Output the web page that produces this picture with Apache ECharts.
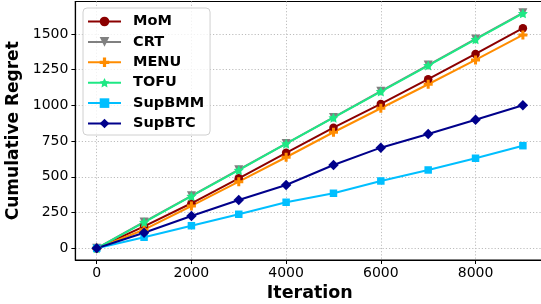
<!DOCTYPE html>
<html>
<head>
<meta charset="utf-8">
<script src="https://cdn.jsdelivr.net/npm/echarts@6/dist/echarts.min.js"></script>
<style>
html,body{margin:0;padding:0;background:#fff;}
#c{width:541px;height:304px;}
</style>
</head>
<body>
<div id="c"></div>
<script>
var iterations = [0, 1000, 2000, 3000, 4000, 5000, 6000, 7000, 8000, 9000];
var seriesNames = ['MoM', 'CRT', 'MENU', 'TOFU', 'SupBMM', 'SupBTC'];
var mom    = [0, 153, 315, 490, 668, 844, 1010, 1183, 1360, 1540];
var crt    = [0, 184, 367, 550, 733, 916, 1099, 1282, 1465, 1648];
var menu   = [0, 130, 296, 466, 637, 812, 980, 1148, 1318, 1493];
var tofu   = [0, 182, 365, 547, 732, 914, 1097, 1279, 1462, 1644];
var supbmm = [0, 77, 158, 238, 322, 385, 471, 548, 630, 718];
var supbtc = [0, 109, 226, 338, 443, 583, 704, 800, 899, 1001];
var xTicks = [0, 2000, 4000, 6000, 8000];
var yTicks = [0, 250, 500, 750, 1000, 1250, 1500];

var colors = ['#8b0000', '#808080', '#ff8c00', '#1ee884', '#00bfff', '#00008b'];
var plusPath = 'path://M-1,-3H1V-1H3V1H1V3H-1V1H-3V-1H-1Z';
var starPath = 'path://M0,-10L2.939,-4.045L9.511,-3.09L4.755,1.545L5.878,8.09L0,5L-5.878,8.09L-4.755,1.545L-9.511,-3.09L-2.939,-4.045Z';
var symbols = ['circle', 'triangle', plusPath, starPath, 'rect', 'diamond'];
var sizes = [8.5, 9, 9, 10, 7.5, 10.5];
var rotates = [0, 180, 0, 0, 0, 0];
var allData = [mom, crt, menu, tofu, supbmm, supbtc];

function pairs(arr) { return iterations.map(function (x, i) { return [x, arr[i]]; }); }

var series = seriesNames.map(function (n, k) {
  return {
    name: n, type: 'line', data: pairs(allData[k]),
    symbol: symbols[k], symbolSize: sizes[k], symbolRotate: rotates[k],
    showAllSymbol: true, clip: false,
    lineStyle: { color: colors[k], width: 2 },
    itemStyle: { color: colors[k] },
    emphasis: { disabled: true },
    animation: false
  };
});

var gridLine = { show: true, lineStyle: { color: '#bdbdbd', type: [1.2, 2], width: 1 } };

var chart = echarts.init(document.getElementById('c'), null, { renderer: 'canvas' });
chart.setOption({
  animation: false,
  grid: { left: 75.4, top: 1.5, width: 468.8, height: 258.5, show: true, borderColor: '#000', borderWidth: 1.2, backgroundColor: 'transparent', containLabel: false, outerBoundsMode: 'none' },
  legend: {
    data: seriesNames, left: 83, top: 8, orient: 'vertical',
    padding: [6, 6, 4, 4], itemGap: 5.4, itemWidth: 33, itemHeight: 12,
    backgroundColor: 'rgba(255,255,255,0.8)', borderColor: '#d0d0d0', borderWidth: 1, borderRadius: 4,
    textStyle: { fontFamily: 'DejaVu Sans', fontWeight: 'bold', fontSize: 14.5, lineHeight: 14, color: '#000', padding: [0, 0, 0, 7] }
  },
  xAxis: {
    type: 'value', min: -450, max: 9450,
    name: 'Iteration', nameLocation: 'middle', nameGap: 20,
    nameTextStyle: { fontFamily: 'DejaVu Sans', fontWeight: 'bold', fontSize: 17.5, color: '#000' },
    axisLine: { show: true, onZero: false, lineStyle: { color: '#000', width: 1.2 } },
    axisTick: { show: true, length: 4, customValues: xTicks, lineStyle: { color: '#000' } },
    axisLabel: { customValues: xTicks, margin: 6, fontFamily: 'DejaVu Sans', fontSize: 14, color: '#000', formatter: function (v) { return String(v); } },
    splitLine: gridLine
  },
  yAxis: {
    type: 'value', min: -82, max: 1727,
    name: 'Cumulative Regret', nameLocation: 'middle', nameGap: 40,
    nameTextStyle: { fontFamily: 'DejaVu Sans', fontWeight: 'bold', fontSize: 17, color: '#000' },
    axisLine: { show: true, onZero: false, lineStyle: { color: '#000', width: 1.2 } },
    axisTick: { show: true, length: 4, customValues: yTicks, lineStyle: { color: '#000' } },
    axisLabel: { customValues: yTicks, margin: 7, fontFamily: 'DejaVu Sans', fontSize: 14, color: '#000', formatter: function (v) { return String(v); } },
    splitLine: gridLine
  },
  series: series
});
</script>
</body>
</html>
